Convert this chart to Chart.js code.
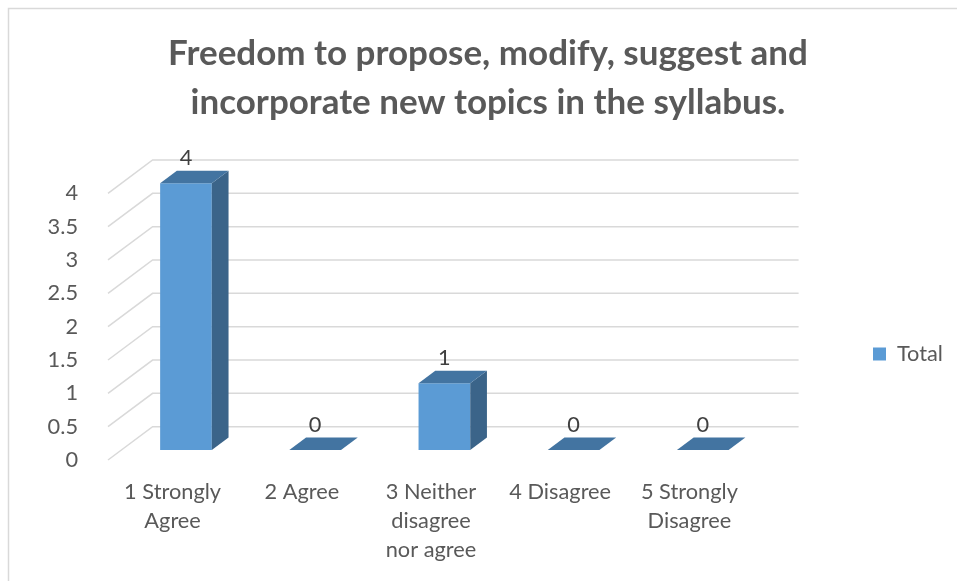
<!DOCTYPE html>
<html><head><meta charset="utf-8">
<script src="https://cdn.jsdelivr.net/npm/chart.js@4.4.0/dist/chart.umd.min.js"></script>
<style>html,body{margin:0;padding:0;background:#fff;overflow:hidden}#wrap{width:957px;height:581px;position:relative}</style>
</head><body><div id="wrap"><canvas id="c" width="957" height="581"></canvas></div>
<script>
const titleLines = ["Freedom to propose, modify, suggest and", "incorporate new topics in the syllabus."];
const categories = [["1 Strongly","Agree"],["2 Agree"],["3 Neither","disagree","nor agree"],["4 Disagree"],["5 Strongly","Disagree"]];
const seriesName = "Total";
const totals = [4, 0, 1, 0, 0];
const yTickLabels = ["0", "0.5", "1", "1.5", "2", "2.5", "3", "3.5", "4"];
const yMin = 0, yMax = 4, yStep = 0.5;

const FAMILY = "Lato, 'Open Sans', sans-serif";
const mctx = document.createElement('canvas').getContext('2d');
function fit(text, weight, target){ mctx.font = weight + ' 100px ' + FAMILY; return 100 * target / mctx.measureText(text).width; }
const titleSize = fit(titleLines[0], 'bold', 640);
const fs = fit('1 Strongly', 'normal', 97);
mctx.font = 'normal ' + fs + 'px ' + FAMILY;
const totalW = mctx.measureText(seriesName).width;

const W = 957, H = 581;
const AREA_L = 108, AREA_R = 754, AREA_T = 193.3, AREA_B = 460;
const DX = 44.6, DY = 33.3;
const FRONT = 0.3, DEPTH = 0.375;
const LEG_BOX_X = 873, LEG_CY = 354, LEG_PAD = 10, BOX = 13;
const legendW = BOX + fs / 2 + totalW + 2 * LEG_PAD;
const padR = W - (LEG_BOX_X - LEG_PAD) - legendW;
const padL = padR + 19;
const itemH = Math.max(fs, BOX);
const legTitleH = 2 * (LEG_CY - itemH / 2) - (LEG_PAD + H - (itemH + LEG_PAD));
const TITLE_PAD_TOP = 29.5, TITLE_LH = 48.5;

const GRID = '#d9d9d9', FRONT_C = '#5b9bd5', TOP_C = '#4374a1', SIDE_C = '#3b6489';

const depthPlugin = {
  id: 'depth',
  beforeDraw(chart) {
    const c = chart.ctx;
    c.save();
    c.fillStyle = '#fff'; c.fillRect(0, 0, W, H);
    c.strokeStyle = GRID; c.lineWidth = 1.5;
    c.strokeRect(8.5, 8.5, W + 20, H + 20);
    c.restore();
  },
  beforeDatasetsDraw(chart) {
    const c = chart.ctx, ys = chart.scales.y, a = chart.chartArea;
    c.save();
    c.strokeStyle = GRID; c.lineWidth = 1.5;
    ys.ticks.forEach(t => {
      const fy = ys.getPixelForValue(t.value);
      c.beginPath();
      c.moveTo(a.left, fy);
      c.lineTo(a.left + DX, fy - DY);
      c.lineTo(a.right + DX, fy - DY);
      c.stroke();
    });
    c.restore();
  },
  beforeDatasetDraw(chart) {
    chart.ctx.save();
    chart.ctx.translate(FRONT * DX, -FRONT * DY);
  },
  afterDatasetDraw(chart, args) {
    const c = chart.ctx;
    const d = DEPTH * DX, e = DEPTH * DY;
    args.meta.data.forEach(el => {
      const p = el.getProps(['x', 'y', 'base', 'width'], true);
      const x1 = p.x - p.width / 2, x2 = p.x + p.width / 2;
      const top = Math.min(p.y, p.base), base = Math.max(p.y, p.base);
      if (base - top > 0.01) {
        c.fillStyle = SIDE_C;
        c.beginPath();
        c.moveTo(x2, top); c.lineTo(x2 + d, top - e); c.lineTo(x2 + d, base - e); c.lineTo(x2, base);
        c.closePath(); c.fill();
      }
      c.fillStyle = TOP_C;
      c.beginPath();
      c.moveTo(x1, top); c.lineTo(x2, top); c.lineTo(x2 + d, top - e); c.lineTo(x1 + d, top - e);
      c.closePath(); c.fill();
    });
    c.restore();
  },
  afterDatasetsDraw(chart) {
    const c = chart.ctx;
    const meta = chart.getDatasetMeta(0);
    c.save();
    c.font = 'normal ' + fs + 'px ' + FAMILY;
    c.fillStyle = '#404040';
    c.textAlign = 'center'; c.textBaseline = 'middle';
    meta.data.forEach((el, i) => {
      const p = el.getProps(['x', 'y'], true);
      c.fillText(String(totals[i]), p.x + FRONT * DX, p.y - FRONT * DY - 25.5);
    });
    c.restore();
  }
};

new Chart(document.getElementById('c'), {
  type: 'bar',
  data: {
    labels: categories,
    datasets: [{
      label: seriesName, data: totals, backgroundColor: FRONT_C, borderWidth: 0,
      barPercentage: 0.4, categoryPercentage: 1, clip: false
    }]
  },
  options: {
    responsive: false, animation: false, devicePixelRatio: 1,
    layout: { padding: { left: padL, right: padR, top: 0, bottom: 0 } },
    plugins: {
      title: {
        display: true, text: titleLines, color: '#595959',
        font: { family: FAMILY, size: titleSize, weight: 'bold', lineHeight: TITLE_LH + 'px' },
        padding: { top: TITLE_PAD_TOP, bottom: AREA_T - TITLE_PAD_TOP - 2 * TITLE_LH }
      },
      legend: {
        position: 'right', align: 'center',
        title: { display: true, text: ' ', font: { size: 10, lineHeight: 1 }, padding: { top: legTitleH - 10, bottom: 0 } },
        labels: { boxWidth: BOX, boxHeight: BOX, padding: LEG_PAD, color: '#595959', font: { family: FAMILY, size: fs } }
      },
      tooltip: { enabled: false }
    },
    scales: {
      x: {
        grid: { display: false }, border: { display: false },
        ticks: { color: '#595959', font: { family: FAMILY, size: fs, lineHeight: '29px' }, padding: 9.5, maxRotation: 0, autoSkip: false },
        afterFit: s => { s.height = H - AREA_B; }
      },
      y: {
        min: yMin, max: yMax,
        grid: { display: false }, border: { display: false },
        ticks: { stepSize: yStep, color: '#595959', font: { family: FAMILY, size: fs }, padding: 22,
                 callback: (v, i) => yTickLabels[i] },
        afterFit: s => { s.width = AREA_L - padL; }
      },
      yR: {
        position: 'right', display: true,
        grid: { display: false }, border: { display: false }, ticks: { display: false },
        afterFit: s => { s.width = (W - padR - s.chart.legend.width) - AREA_R; }
      }
    }
  },
  plugins: [depthPlugin]
});
</script></body></html>
